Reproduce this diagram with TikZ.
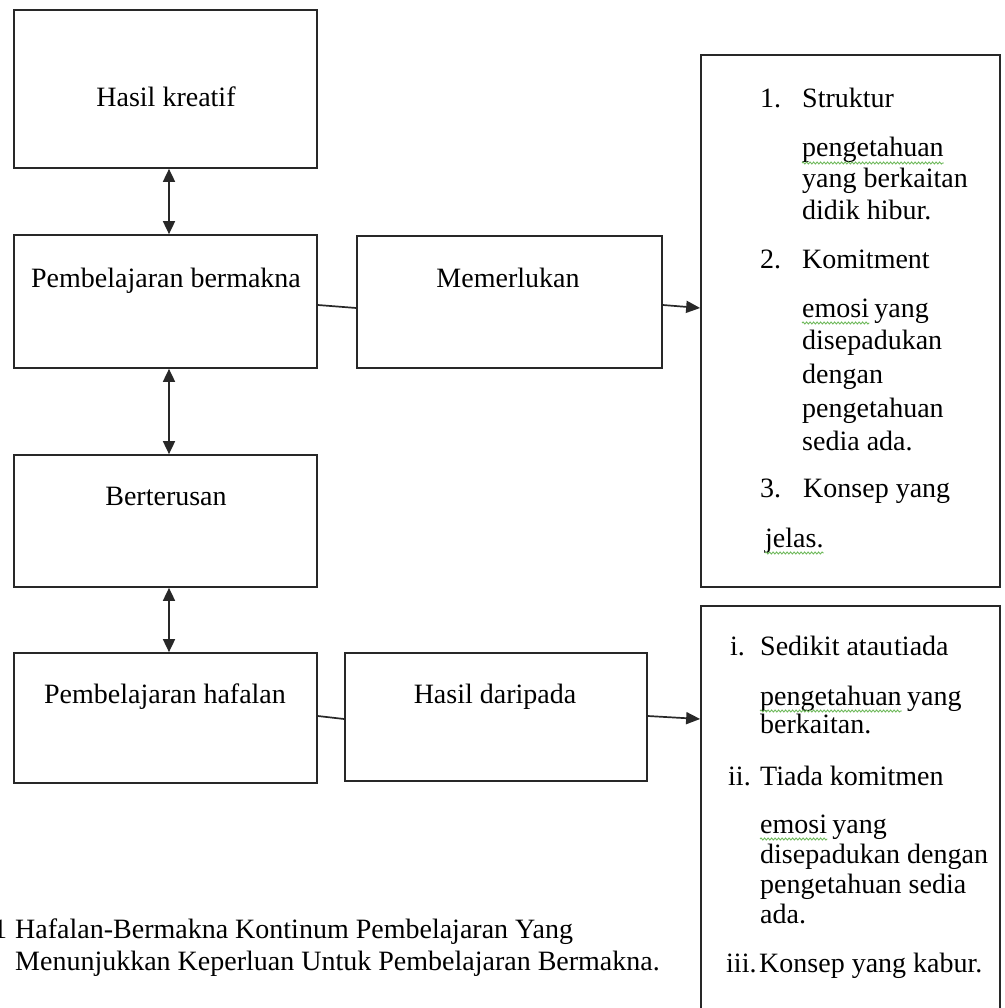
\documentclass[tikz,border=0pt]{standalone}
\usepackage{fontspec}
\setmainfont{Liberation Serif}
\usetikzlibrary{arrows.meta,decorations.pathmorphing}
\definecolor{edge}{RGB}{40,40,40}
\definecolor{wavegreen}{RGB}{110,185,90}
\newcommand{\fs}{\fontsize{28}{31}\selectfont}
\tikzset{
  box/.style={draw=edge, line width=1.7pt, rectangle, inner sep=0pt},
  lbl/.style={anchor=base, inner sep=0pt, font=\fs},
  txt/.style={anchor=base west, inner sep=0pt, font=\fs},
  conn/.style={draw=edge, line width=1.7pt},
  tip/.style={-{Triangle[length=14pt,width=12pt]}},
  dtip/.style={{Triangle[length=13pt,width=12pt]}-{Triangle[length=13pt,width=12pt]}},
  wav/.style={draw=wavegreen, line width=0.9pt, decorate, decoration={snake, segment length=3.5pt, amplitude=1pt}}
}
\begin{document}
\begin{tikzpicture}[x=1pt,y=-1pt]
\useasboundingbox (0,0) rectangle (1004,1008);
\clip (0,0) rectangle (1004,1008);
\fill[white] (0,0) rectangle (1004,1008);

% left column boxes
\node[box, minimum width=303pt, minimum height=158pt] (b1) at (165.5,89) {};
\node[box, minimum width=303pt, minimum height=133pt] (b2) at (165.5,301.5) {};
\node[box, minimum width=303pt, minimum height=132pt] (b3) at (165.5,521) {};
\node[box, minimum width=303pt, minimum height=130pt] (b4) at (165.5,718) {};
% middle boxes
\node[box, minimum width=305pt, minimum height=132pt] (mem) at (509.5,302) {};
\node[box, minimum width=302pt, minimum height=128pt] (hd) at (496,717) {};
% right boxes
\node[box, minimum width=299pt, minimum height=532pt] (r1) at (850.5,321) {};
\node[box, minimum width=299pt, minimum height=424pt] (r2) at (850.5,818) {};

% box labels
\node[lbl] (t1) at (166,107) {Hasil kreatif};
\node[lbl] (t2) at (166,287) {Pembelajaran bermakna};
\node[lbl] (t3) at (166,505) {Berterusan};
\node[lbl] (t4) at (165,703) {Pembelajaran hafalan};
\node[lbl] (tm) at (508,287) {Memerlukan};
\node[lbl] (th) at (495,703) {Hasil daripada};

% connectors
\draw[conn, dtip] ([xshift=3.5pt]b1.south) -- ([xshift=3.5pt]b2.north);
\draw[conn, dtip] ([xshift=3.5pt]b2.south) -- ([xshift=3.5pt]b3.north);
\draw[conn, dtip] ([xshift=3.5pt]b3.south) -- ([xshift=3.5pt]b4.north);
\draw[conn] ([yshift=-3.5pt]b2.east) -- ([yshift=-6pt]mem.west);
\draw[conn, tip] ([yshift=-3pt]mem.east) -- ([yshift=13pt]r1.west);
\draw[conn] ([yshift=2pt]b4.east) -- ([yshift=-2pt]hd.west);
\draw[conn, tip] ([yshift=1pt]hd.east) -- ([yshift=99pt]r2.west);

% right box 1
\node[txt] (a1) at (760,108) {1.};
\node[txt] (a1t) at (802,108) {Struktur};
\node[txt] (a1p) at (802,157) {pengetahuan};
\node[txt] (a1q) at (802,188) {yang berkaitan};
\node[txt] (a1r) at (802,219) {didik hibur.};
\node[txt] (a2) at (760,268) {2.};
\node[txt] (a2t) at (802,268) {Komitment};
\node[txt] (a2e) at (802,317) {emosi};
\node[txt] (a2y) at ([xshift=5pt]a2e.base east) {yang};
\node[txt] (a2d) at (802,349) {disepadukan};
\node[txt] (a2g) at (802,383) {dengan};
\node[txt] (a2p) at (802,417) {pengetahuan};
\node[txt] (a2s) at (802,450) {sedia ada.};
\node[txt] (a3) at (760,497) {3.};
\node[txt] (a3t) at (803,497) {Konsep yang};
\node[txt] (a3j) at (765,547) {jelas.};

% right box 2
\node[txt] (c1) at (730,655) {i.};
\node[txt] (c1t) at (760,655) {Sedikit atau\kern1pt tiada};
\node[txt] (c1p) at (760,705) {pengetahuan};
\node[txt] (c1y) at ([xshift=5pt]c1p.base east) {yang};
\node[txt] (c1b) at (760,733) {berkaitan.};
\node[txt] (c2) at (728,785) {ii.};
\node[txt] (c2t) at (760,785) {Tiada komitmen};
\node[txt] (c2e) at (760,833) {emosi};
\node[txt] (c2y) at ([xshift=5pt]c2e.base east) {yang};
\node[txt] (c2d) at (760,863) {disepadukan dengan};
\node[txt] (c2p) at (760,893) {pengetahuan sedia};
\node[txt] (c2a) at (760,923) {ada.};
\node[txt] (c3) at (726,972) {iii.};
\node[txt] (c3t) at (759,972) {Konsep yang kabur.};

% spell-check underlines
\draw[wav] ([yshift=-6pt]a1p.base west) -- ([yshift=-6pt]a1p.base east);
\draw[wav] ([yshift=-6pt]a2e.base west) -- ([yshift=-6pt]a2e.base east);
\draw[wav] ([yshift=-6pt]a3j.base west) -- ([yshift=-6pt]a3j.base east);
\draw[wav] ([yshift=-6pt]c1p.base west) -- ([yshift=-6pt]c1p.base east);
\draw[wav] ([yshift=-6pt]c2e.base west) -- ([yshift=-6pt]c2e.base east);

% caption
\node[txt] (cap1) at (-7,938) {1};
\node[txt] (cap2) at (15,938) {Hafalan-Bermakna Kontinum Pembelajaran Yang};
\node[txt] (cap3) at (15,970) {Menunjukkan Keperluan Untuk Pembelajaran Bermakna.};
\end{tikzpicture}
\end{document}
